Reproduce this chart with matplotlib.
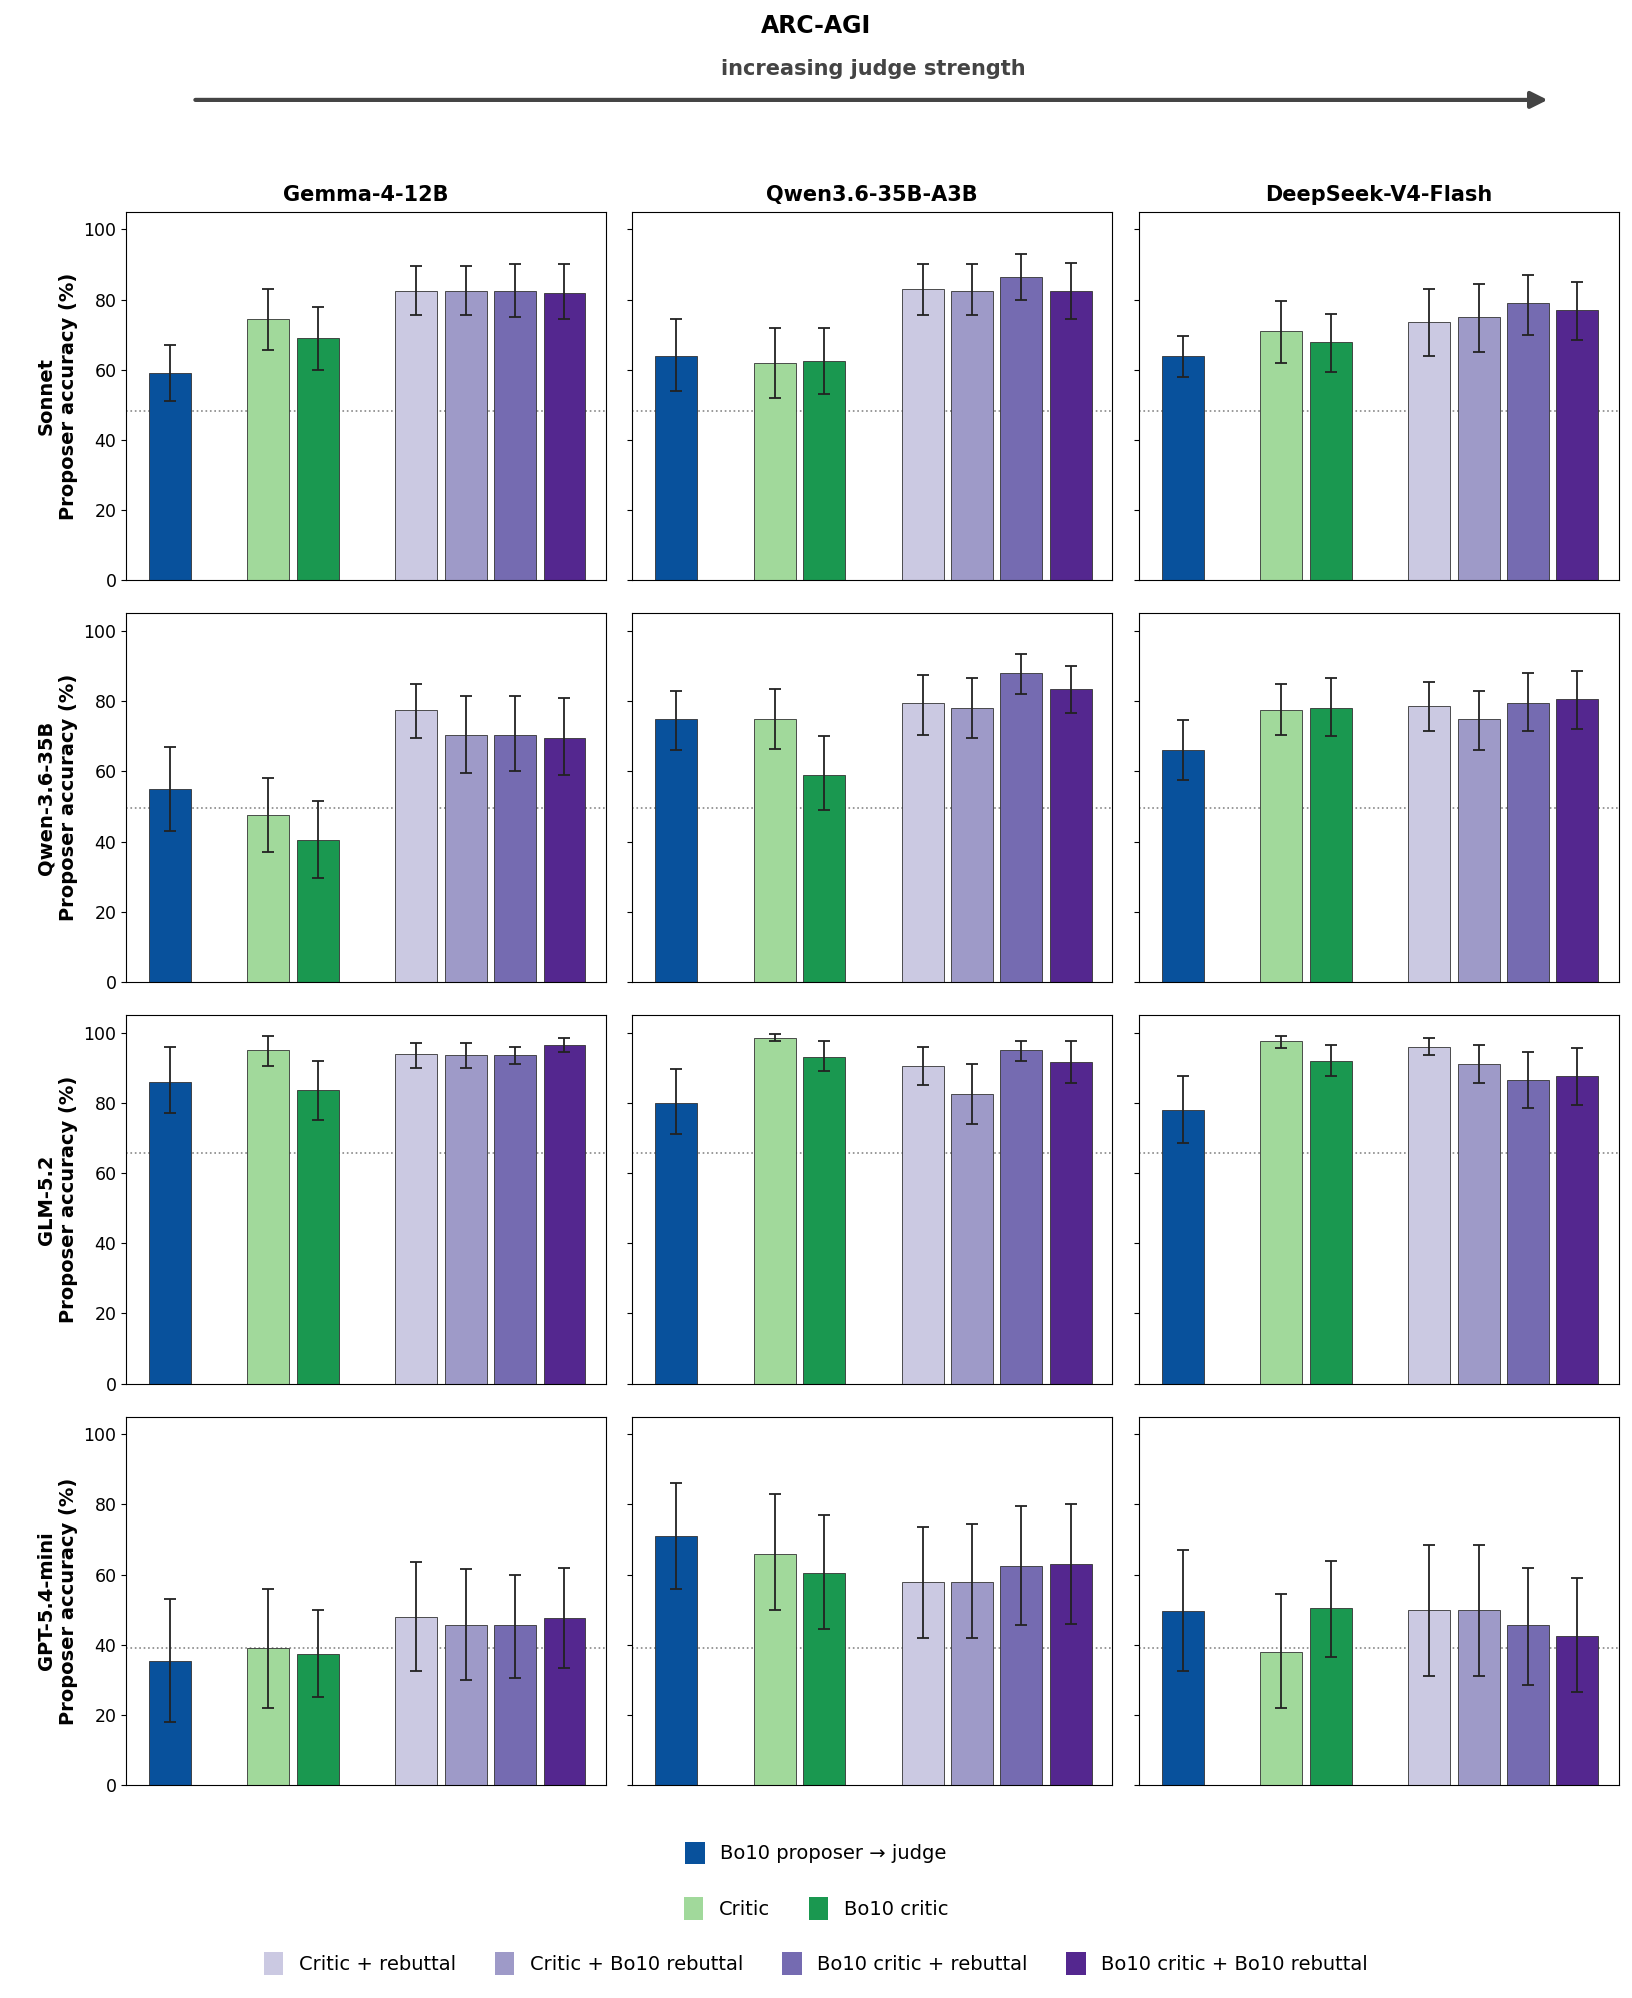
import numpy as np
import matplotlib.pyplot as plt
from matplotlib.patches import Patch

judges = ["Gemma-4-12B", "Qwen3.6-35B-A3B", "DeepSeek-V4-Flash"]
proposers = ["Sonnet", "Qwen-3.6-35B", "GLM-5.2", "GPT-5.4-mini"]
methods = ["Bo10 proposer \u2192 judge", "Critic", "Bo10 critic", "Critic + rebuttal",
           "Critic + Bo10 rebuttal", "Bo10 critic + rebuttal", "Bo10 critic + Bo10 rebuttal"]
colors = ["#08519c", "#a1d99b", "#1a9850", "#cbc9e2", "#9e9ac8", "#756bb1", "#54278f"]
slots = [0, 2, 3, 5, 6, 7, 8]

# baseline (dotted line) per proposer row
baseline = [48.3, 49.5, 65.8, 39.2]

# values[row][col] = list of 7 method accuracies
values = [
    [[59, 74.5, 69, 82.5, 82.5, 82.5, 82],
     [64, 62, 62.5, 83, 82.5, 86.5, 82.5],
     [64, 71, 68, 73.5, 75, 79, 77]],
    [[55, 47.5, 40.5, 77.5, 70.5, 70.5, 69.5],
     [75, 75, 59, 79.5, 78, 88, 83.5],
     [66, 77.5, 78, 78.5, 75, 79.5, 80.5]],
    [[86, 95, 83.5, 94, 93.5, 93.5, 96.5],
     [80, 98.5, 93, 90.5, 82.5, 95, 91.5],
     [78, 97.5, 92, 96, 91, 86.5, 87.5]],
    [[35.5, 39, 37.5, 48, 45.5, 45.5, 47.5],
     [71, 66, 60.5, 58, 58, 62.5, 63],
     [49.5, 38, 50.5, 50, 50, 45.5, 42.5]],
]
err_lo = [
    [[51, 65.5, 60, 75.5, 75.5, 75, 74.5],
     [54, 52, 53, 75.5, 75.5, 80, 74.5],
     [58, 62, 59.5, 64, 65, 70, 68.5]],
    [[43, 37, 29.5, 69.5, 59.5, 60, 59],
     [66, 66.5, 49, 70.5, 69.5, 82, 76.5],
     [57.5, 70.5, 70, 71.5, 66, 71.5, 72]],
    [[77, 90.5, 75, 90, 90, 91, 94.5],
     [71, 97.5, 89, 85, 74, 92, 85.5],
     [68.5, 95.5, 87.5, 93.5, 85.5, 78.5, 79.5]],
    [[18, 22, 25, 32.5, 30, 30.5, 33.5],
     [56, 50, 44.5, 42, 42, 45.5, 46],
     [32.5, 22, 36.5, 31, 31, 28.5, 26.5]],
]
err_hi = [
    [[67, 83, 78, 89.5, 89.5, 90, 90],
     [74.5, 72, 72, 90, 90, 93, 90.5],
     [69.5, 79.5, 76, 83, 84.5, 87, 85]],
    [[67, 58, 51.5, 85, 81.5, 81.5, 81],
     [83, 83.5, 70, 87.5, 86.5, 93.5, 90],
     [74.5, 85, 86.5, 85.5, 83, 88, 88.5]],
    [[96, 99, 92, 97, 97, 96, 98.5],
     [89.5, 99.5, 97.5, 96, 91, 97.5, 97.5],
     [87.5, 99, 96.5, 98.5, 96.5, 94.5, 95.5]],
    [[53, 56, 50, 63.5, 61.5, 60, 62],
     [86, 83, 77, 73.5, 74.5, 79.5, 80],
     [67, 54.5, 64, 68.5, 68.5, 62, 59]],
]

fig = plt.figure(figsize=(16.32, 19.98), dpi=100)
lefts = [0.0773, 0.3875, 0.698]
tops = [0.894, 0.693, 0.492, 0.291]
w, h = 0.294, 0.1845

for r in range(4):
    for c in range(3):
        ax = fig.add_axes([lefts[c], tops[r] - h, w, h])
        v = np.array(values[r][c])
        lo = v - np.array(err_lo[r][c])
        hi = np.array(err_hi[r][c]) - v
        ax.bar(slots, v, width=0.85, color=colors, edgecolor="#333333", linewidth=0.6, zorder=2)
        ax.errorbar(slots, v, yerr=[lo, hi], fmt="none", ecolor="#222222",
                    elinewidth=1.3, capsize=4, capthick=1.3, zorder=3)
        ax.axhline(baseline[r], color="#888888", linestyle=":", linewidth=1.2, zorder=1)
        ax.set_xlim(-0.88, 8.84)
        ax.set_ylim(0, 105)
        ax.set_xticks([])
        ax.set_yticks([0, 20, 40, 60, 80, 100])
        ax.tick_params(axis="y", labelsize=12.5)
        if c == 0:
            ax.set_ylabel(f"{proposers[r]}\nProposer accuracy (%)", fontsize=14, fontweight="bold")
        else:
            ax.set_yticklabels([])
        if r == 0:
            ax.set_title(judges[c], fontsize=15, fontweight="bold", pad=8)

fig.text(0.5, 0.987, "ARC-AGI", ha="center", va="center", fontsize=17, fontweight="bold")
fig.text(0.535, 0.9655, "increasing judge strength", ha="center", va="center",
         fontsize=15, fontweight="bold", color="#444444")
fig.add_artist(plt.Annotation("", xy=(0.95, 0.950), xytext=(0.118, 0.950),
                              xycoords="figure fraction", textcoords="figure fraction",
                              arrowprops=dict(arrowstyle="-|>", color="#444444", lw=3,
                                              mutation_scale=25)))

def handles(idx):
    return [Patch(facecolor=colors[i], edgecolor="none", label=methods[i]) for i in idx]

for idx, y in [([0], 0.0727), ([1, 2], 0.0447), ([3, 4, 5, 6], 0.0172)]:
    fig.legend(handles=handles(idx), loc="center", bbox_to_anchor=(0.5, y), ncol=len(idx),
               frameon=False, fontsize=14, handlelength=1.0, handleheight=1.4,
               columnspacing=2.0, handletextpad=0.8)

fig.savefig("out.png", dpi=100)
